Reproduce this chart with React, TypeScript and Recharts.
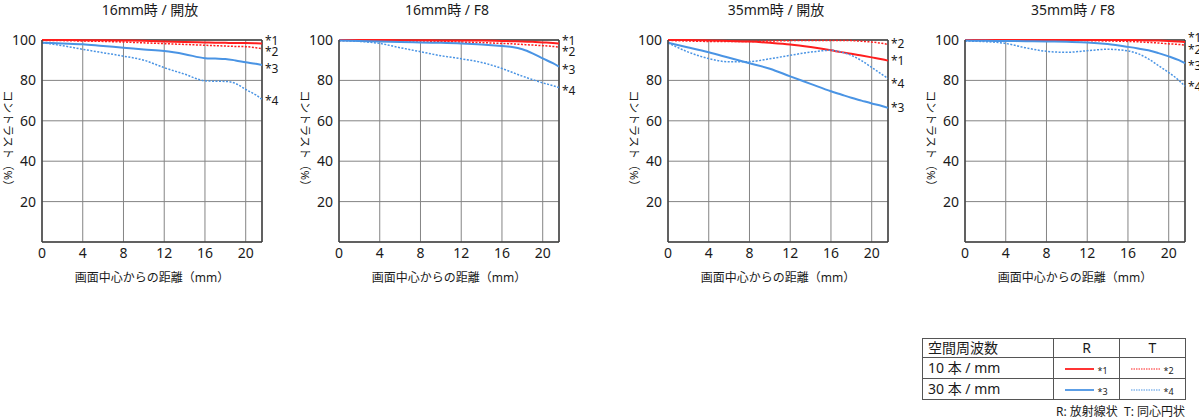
import { LineChart, Line, XAxis, YAxis, CartesianGrid, ReferenceLine } from 'recharts'

// distance from image centre (mm)
const dist = [0, 2, 4, 6, 8, 10, 12, 14, 16, 17, 18, 19, 20, 21, 21.6]
const xTicks = [0, 4, 8, 12, 16, 20]
const yTicks = [20, 40, 60, 80, 100]
const xMax = 21.6

const titles = ['16mm時 / 開放', '16mm時 / F8', '35mm時 / 開放', '35mm時 / F8']

// 16mm open
const w16OpenR10 = [100, 100, 99.9, 99.9, 99.8, 99.6, 99.3, 99.0, 98.8, 98.7, 98.6, 98.5, 98.5, 98.4, 98.3]
const w16OpenT10 = [99.8, 99.7, 99.5, 99.3, 99.0, 98.6, 98.2, 97.8, 97.4, 97.2, 97.0, 96.8, 96.7, 96.2, 95.7]
const w16OpenR30 = [98.7, 98.3, 97.9, 97.0, 96.2, 95.3, 94.5, 93.0, 91.0, 90.8, 90.6, 89.9, 89.0, 88.2, 87.6]
const w16OpenT30 = [98.7, 97.2, 95.4, 93.7, 92.0, 90.0, 86.3, 83.1, 79.8, 79.6, 79.5, 78.5, 75.5, 72.8, 70.6]

// 16mm F8
const w16F8R10 = [100, 100, 100, 99.9, 99.9, 99.8, 99.8, 99.7, 99.5, 99.4, 99.3, 99.1, 98.8, 98.5, 98.3]
const w16F8T10 = [99.8, 99.8, 99.7, 99.6, 99.5, 99.3, 99.0, 98.7, 98.3, 98.1, 97.8, 97.5, 97.2, 96.8, 96.5]
const w16F8R30 = [99.7, 99.5, 99.3, 99.0, 98.8, 98.6, 98.3, 97.8, 97.0, 96.5, 95.4, 93.4, 90.9, 88.5, 86.8]
const w16F8T30 = [99.7, 99.3, 98.3, 96.2, 94.2, 92.2, 90.7, 88.9, 85.9, 84.0, 82.1, 80.4, 78.8, 77.4, 76.5]

// 35mm open
const t35OpenR10 = [100, 100, 99.8, 99.5, 99.2, 98.6, 97.8, 96.5, 94.9, 94.0, 93.2, 92.3, 91.4, 90.5, 89.8]
const t35OpenT10 = [99.8, 99.5, 99.3, 99.3, 99.3, 99.5, 99.7, 99.8, 99.8, 99.8, 99.7, 99.4, 99.0, 98.4, 97.8]
const t35OpenR30 = [98.6, 96.3, 93.9, 91.2, 88.5, 85.8, 82.0, 78.3, 74.6, 73.0, 71.4, 70.0, 68.6, 67.3, 66.4]
const t35OpenT30 = [98.6, 94.0, 90.8, 89.2, 89.3, 90.7, 92.4, 94.0, 94.9, 94.0, 92.4, 89.8, 86.4, 83.0, 81.0]

// 35mm F8
const t35F8R10 = [100, 100, 100, 100, 100, 100, 100, 100, 100, 99.9, 99.8, 99.7, 99.5, 99.2, 99.0]
const t35F8T10 = [99.8, 99.8, 99.8, 99.8, 99.7, 99.7, 99.7, 99.5, 99.3, 99.1, 98.8, 98.5, 98.1, 97.8, 97.5]
const t35F8R30 = [99.7, 99.6, 99.5, 99.4, 99.3, 99.1, 98.8, 98.0, 96.6, 95.8, 94.9, 93.5, 91.9, 90.0, 88.5]
const t35F8T30 = [99.5, 99.2, 98.3, 96.1, 94.4, 93.9, 94.7, 95.4, 94.6, 93.2, 90.7, 87.3, 83.9, 80.0, 77.1]

const freqRows = ['10 本 / mm', '30 本 / mm']
const headRow = ['空間周波数', 'R', 'T']
const caption = 'R: 放射線状  T: 同心円状'

const FONT = "'Noto Sans', 'Noto Sans CJK JP', sans-serif"
const TEXT = '#1a1a1a'
const FRAME = '#404040'
const RED = '#ff1e1e'
const BLUE = '#4a94e4'

const seriesStyle = [
  { key: 's1', name: '*1', color: RED, dash: undefined, width: 2 },
  { key: 's2', name: '*2', color: RED, dash: '2 1.5', width: 1.5 },
  { key: 's3', name: '*3', color: BLUE, dash: undefined, width: 2 },
  { key: 's4', name: '*4', color: BLUE, dash: '2 1.5', width: 1.5 },
]

// chart placement and end-label nudges (px)
const charts = [
  { title: titles[0], left: 0, values: [w16OpenR10, w16OpenT10, w16OpenR30, w16OpenT30], shift: [-3, 3, 3.5, 1] },
  { title: titles[1], left: 297, values: [w16F8R10, w16F8T10, w16F8R30, w16F8T30], shift: [-3, 4.5, 3, 3] },
  { title: titles[2], left: 626, values: [t35OpenR10, t35OpenT10, t35OpenR30, t35OpenT30], shift: [0, -1, 0, 5] },
  { title: titles[3], left: 923, values: [t35F8R10, t35F8T10, t35F8R30, t35F8T30], shift: [-5, 4.5, 2, 0] },
]

const endLabel = (name: string, shift: number) => (p: any) => {
  if (p.index !== dist.length - 1) return <g key={`e${p.index}`} />
  return (
    <text key={`e${p.index}`} x={p.cx + 3} y={p.cy + shift} dominantBaseline="central" fontSize={12} fill={TEXT}>
      {name}
    </text>
  )
}

const xTitle = (props: any) => {
  const vb = props.viewBox || { x: 42, y: 242, width: 220 }
  return (
    <text x={vb.x + vb.width / 2} y={vb.y + 35} textAnchor="middle" dominantBaseline="central" fontSize={12} fill={TEXT}>
      画面中心からの距離（mm）
    </text>
  )
}

const yTitle = (props: any) => {
  const vb = props.viewBox || { x: 0, y: 40, width: 42, height: 202 }
  const cx = vb.x + 8
  const cy = vb.y + vb.height / 2
  return (
    <text x={cx} y={cy} transform={`rotate(90 ${cx} ${cy})`} textAnchor="middle" dominantBaseline="central" fontSize={11.5} fill={TEXT}>
      コントラスト（%）
    </text>
  )
}

function MtfChart({ title, left, values, shift }: { title: string; left: number; values: number[][]; shift: number[] }) {
  const rows = dist.map((d, i) => ({ d, s1: values[0][i], s2: values[1][i], s3: values[2][i], s4: values[3][i] }))
  return (
    <div style={{ position: 'absolute', left, top: 0, width: 300, height: 300 }}>
      <div style={{ position: 'absolute', left: 40, width: 220, top: 1, textAlign: 'center', fontSize: 14, lineHeight: '17px', color: TEXT }}>
        {title}
      </div>
      <LineChart width={300} height={300} data={rows} margin={{ top: 40, right: 38, bottom: 28, left: 0 }}>
        <CartesianGrid stroke="#848484" strokeWidth={1} />
        <XAxis
          dataKey="d"
          type="number"
          domain={[0, xMax]}
          ticks={xTicks}
          height={30}
          tickLine={false}
          tickSize={6}
          tickMargin={0}
          axisLine={{ stroke: FRAME, strokeWidth: 1.5 }}
          tick={{ fontSize: 14, fill: TEXT }}
          label={xTitle}
        />
        <YAxis
          type="number"
          domain={[0, 100]}
          ticks={yTicks}
          width={42}
          tickLine={false}
          tickSize={6}
          tickMargin={0}
          axisLine={{ stroke: FRAME, strokeWidth: 1.5 }}
          tick={{ fontSize: 14, fill: TEXT }}
          label={yTitle}
        />
        <ReferenceLine x={xMax} stroke={FRAME} strokeWidth={1.5} />
        <ReferenceLine y={100} stroke={FRAME} strokeWidth={1.5} />
        {seriesStyle.map((s, i) => (
          <Line
            key={s.key}
            dataKey={s.key}
            type="monotone"
            stroke={s.color}
            strokeWidth={s.width}
            strokeDasharray={s.dash}
            dot={endLabel(s.name, shift[i])}
            activeDot={false}
            isAnimationActive={false}
          />
        ))}
      </LineChart>
    </div>
  )
}

function Sample({ color, dash, name }: { color: string; dash?: string; name: string }) {
  return (
    <span style={{ display: 'inline-flex', alignItems: 'center', height: 18 }}>
      <svg width={29} height={6}>
        <line x1={0} y1={3} x2={29} y2={3} stroke={color} strokeWidth={dash ? 1.2 : 1.8} strokeDasharray={dash ? '1.5 1' : undefined} />
      </svg>
      <span style={{ fontSize: 9, marginLeft: 3, marginTop: 3, lineHeight: '10px' }}>{name}</span>
    </span>
  )
}

function LegendTable() {
  const cell = { border: '1px solid #555', padding: 0, height: 18, lineHeight: '18px', verticalAlign: 'middle' } as const
  return (
    <div style={{ position: 'absolute', left: 922, top: 338, width: 263 }}>
      <table style={{ borderCollapse: 'collapse', width: 263, fontSize: 14, color: TEXT, tableLayout: 'fixed' }}>
        <colgroup>
          <col style={{ width: 131 }} />
          <col style={{ width: 66 }} />
          <col style={{ width: 66 }} />
        </colgroup>
        <tbody>
          <tr>
            <td style={{ ...cell, paddingLeft: 5 }}>{headRow[0]}</td>
            <td style={{ ...cell, textAlign: 'center' }}>{headRow[1]}</td>
            <td style={{ ...cell, textAlign: 'center', borderLeft: '1px solid #999' }}>{headRow[2]}</td>
          </tr>
          {freqRows.map((f, r) => (
            <tr key={f}>
              <td style={{ ...cell, paddingLeft: 5 }}>{f}</td>
              <td style={{ ...cell, textAlign: 'center' }}>
                <Sample color={seriesStyle[r * 2].color} name={seriesStyle[r * 2].name} />
              </td>
              <td style={{ ...cell, textAlign: 'center', borderLeft: '1px solid #999' }}>
                <Sample color={seriesStyle[r * 2 + 1].color} dash={seriesStyle[r * 2 + 1].dash} name={seriesStyle[r * 2 + 1].name} />
              </td>
            </tr>
          ))}
        </tbody>
      </table>
      <div style={{ textAlign: 'right', fontSize: 12, lineHeight: '14px', marginTop: 5, whiteSpace: 'pre', color: TEXT }}>{caption}</div>
    </div>
  )
}

export default function App() {
  return (
    <div style={{ position: 'absolute', left: 0, top: 0, width: 1199, height: 417, overflow: 'hidden', background: '#fff', fontFamily: FONT }}>
      {charts.map((c) => (
        <MtfChart key={c.title} title={c.title} left={c.left} values={c.values} shift={c.shift} />
      ))}
      <LegendTable />
    </div>
  )
}
